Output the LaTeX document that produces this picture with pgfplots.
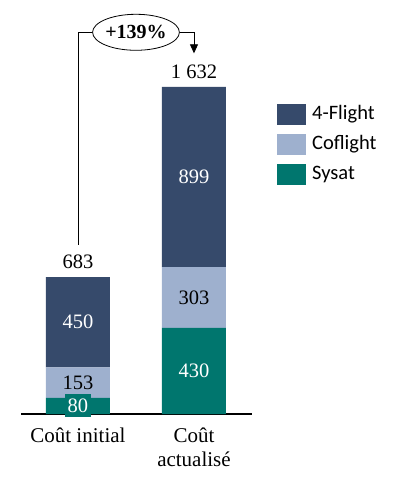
\documentclass[border=0pt]{standalone}
\usepackage{fontspec}
\setmainfont{Liberation Serif}
\newfontfamily\carlito{Carlito}
\usepackage{pgfplots}
\pgfplotsset{compat=1.18}
\usetikzlibrary{arrows.meta,shapes.geometric}
\definecolor{fl}{HTML}{364A6B}
\definecolor{cof}{HTML}{9EB0CE}
\definecolor{sys}{HTML}{00766E}
\tikzset{lab/.style={font=\fontsize{20.5}{20.5}\selectfont}}
\begin{document}
\begin{tikzpicture}
\useasboundingbox (0,0) rectangle (398pt,486pt);
\begin{axis}[
  at={(21pt,72pt)}, anchor=south west,
  scale only axis, width=231pt, height=327pt,
  xmin=-0.491, xmax=1.5, ymin=0, ymax=1632,
  enlargelimits=false,
  ybar stacked, bar width=64pt,
  axis x line*=bottom, axis y line=none,
  axis line style={-, black, line width=1.2pt},
  xtick={0,1}, xticklabels={Coût initial, {Coût\\actualisé}},
  xticklabel style={align=center, font=\fontsize{21}{24}\selectfont, yshift=-10pt},
  major tick length=0pt,
  ytick=\empty,
  clip=false,
  reverse legend,
  legend cell align=left,
  legend image code/.code={\fill[#1] (0pt,-10.5pt) rectangle (29pt,10.5pt);},
  legend style={draw=none, fill=none, at={(1.108,0.948)}, anchor=north west,
    font=\carlito\fontsize{20.5}{20.5}\selectfont, inner sep=0pt, row sep=9pt,
    nodes={inner sep=0pt, text height=14pt, text depth=5pt},
    /tikz/every odd column/.append style={column sep=6pt}},
]
\addplot[fill=sys, draw=none] coordinates {(0,80) (1,430)};
\addplot[fill=cof, draw=none] coordinates {(0,153) (1,303)};
\addplot[fill=fl, draw=none] coordinates {(0,450) (1,899)};
\legend{Sysat, Coflight, 4-Flight}
\coordinate (l1) at (axis cs:0,458);
\coordinate (l2) at (axis cs:0,156.5);
\coordinate (l3) at (axis cs:0,42);
\coordinate (r1) at (axis cs:1,215);
\coordinate (r2) at (axis cs:1,581.5);
\coordinate (r3) at (axis cs:1,1182.5);
\coordinate (lt) at (axis cs:0,683);
\coordinate (rt) at (axis cs:1,1632);
\coordinate (pa) at (axis cs:0,845);
\coordinate (pc) at (axis cs:0.5,1905);
\coordinate (pb) at (axis cs:1,1800);
\end{axis}
\node[lab, text=white] at (l1) {450};
\node[lab, text=black] at (l2) {153};
\node[lab, fill=sys, text=white, inner sep=0pt, minimum width=26pt, minimum height=23pt] at (l3) {80};
\node[lab, text=white] at (r1) {430};
\node[lab, text=black] at (r2) {303};
\node[lab, text=white] at (r3) {899};
\node[lab, anchor=base, yshift=8.5pt] at (lt) {683};
\node[lab, anchor=base, yshift=8.5pt] at (rt) {1 632};
\node[ellipse, draw, line width=0.8pt, minimum width=86pt, minimum height=36pt, inner sep=0pt, font=\fontsize{20}{20}\selectfont\bfseries] (pct) at (pc) {+139\%};
\draw[line width=0.8pt] (pa) |- (pct.west);
\draw[line width=0.8pt, -{Triangle[length=9pt, width=8pt]}] (pct.east) -| (pb);
\end{tikzpicture}
\end{document}
